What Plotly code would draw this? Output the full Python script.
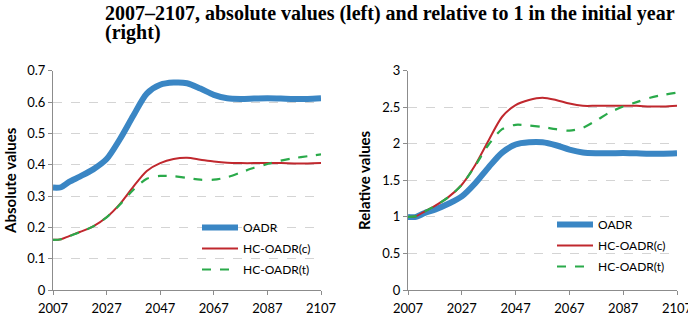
import plotly.graph_objects as go

years = [2007, 2010, 2013, 2017, 2022, 2027, 2032, 2037, 2042, 2047, 2052,
         2057, 2062, 2067, 2072, 2077, 2082, 2087, 2092, 2097, 2102, 2107]

abs_oadr = [0.327, 0.328, 0.345, 0.362, 0.385, 0.418, 0.482, 0.557, 0.627, 0.655, 0.662,
            0.660, 0.643, 0.623, 0.612, 0.610, 0.611, 0.612, 0.611, 0.610, 0.610, 0.612]
abs_hc_c = [0.160, 0.162, 0.172, 0.185, 0.203, 0.232, 0.275, 0.330, 0.380, 0.405, 0.418,
            0.422, 0.416, 0.410, 0.406, 0.405, 0.405, 0.405, 0.405, 0.404, 0.404, 0.405]
abs_hc_t = [0.160, 0.162, 0.172, 0.185, 0.203, 0.232, 0.273, 0.320, 0.355, 0.364, 0.363,
            0.358, 0.352, 0.352, 0.360, 0.375, 0.390, 0.402, 0.413, 0.421, 0.427, 0.433]

rel_oadr = [1.00, 1.00, 1.05, 1.10, 1.18, 1.28, 1.46, 1.68, 1.88, 1.99, 2.02,
            2.02, 1.98, 1.92, 1.88, 1.87, 1.87, 1.875, 1.87, 1.865, 1.865, 1.87]
rel_hc_c = [1.00, 1.01, 1.07, 1.15, 1.27, 1.44, 1.71, 2.05, 2.37, 2.53, 2.60,
            2.63, 2.60, 2.55, 2.52, 2.52, 2.52, 2.52, 2.52, 2.51, 2.51, 2.52]
rel_hc_t = [1.00, 1.01, 1.07, 1.15, 1.27, 1.44, 1.70, 1.99, 2.20, 2.26, 2.25,
            2.23, 2.20, 2.18, 2.22, 2.32, 2.43, 2.51, 2.57, 2.63, 2.67, 2.70]

series_names = ["OADR", "HC-OADR(c)", "HC-OADR(t)"]
x_ticks = [2007, 2027, 2047, 2067, 2087, 2107]
abs_ticks = [0, 0.1, 0.2, 0.3, 0.4, 0.5, 0.6, 0.7]
rel_ticks = [0, 0.5, 1, 1.5, 2, 2.5, 3]
title_line1 = "2007\u20132107, absolute values (left) and relative to 1 in the initial year"
title_line2 = "(right)"

BLUE = "#3A86C4"
RED = "#C0282E"
GREEN = "#2AAA4A"
styles = [dict(color=BLUE, width=6), dict(color=RED, width=2), dict(color=GREEN, width=2.2, dash="dash")]

W, H = 688, 324
SANS = "Lato, Open Sans, Arial"
fig = go.Figure()

for i, (vals, st) in enumerate(zip([abs_oadr, abs_hc_c, abs_hc_t], styles)):
    fig.add_trace(go.Scatter(x=years, y=vals, mode="lines", name=series_names[i],
                             line=dict(shape="spline", smoothing=0.8, **st),
                             xaxis="x", yaxis="y", legend="legend", legendgroup="a%d" % i))
for i, (vals, st) in enumerate(zip([rel_oadr, rel_hc_c, rel_hc_t], styles)):
    fig.add_trace(go.Scatter(x=years, y=vals, mode="lines", name=series_names[i],
                             line=dict(shape="spline", smoothing=0.8, **st),
                             xaxis="x2", yaxis="y2", legend="legend2", legendgroup="b%d" % i))

tickfont = dict(family=SANS, size=13, color="#000000")
axis_common = dict(showline=True, linecolor="#8C8C8C", linewidth=1, ticks="outside",
                   ticklen=4, tickcolor="#8C8C8C", tickfont=tickfont, zeroline=False,
                   automargin=False)
xaxis_extra = dict(ticklabelstandoff=2, ticklabeloverflow="allow")
ytitle_font = dict(family=SANS, size=15, color="#000000")

ydom = [1 - 290 / H, 1 - 70.7 / H]
fig.update_layout(
    width=W, height=H,
    margin=dict(l=0, r=0, t=0, b=0),
    paper_bgcolor="white", plot_bgcolor="white",
    font=dict(family=SANS, color="#000000"),
    xaxis=dict(domain=[53 / W, 321 / W], range=[2007, 2107], tickvals=x_ticks,
               showgrid=False, anchor="y", **axis_common, **xaxis_extra),
    yaxis=dict(domain=ydom, range=[0, 0.7], tickvals=abs_ticks, anchor="x",
               showgrid=True, gridcolor="#D4D4D4", griddash="dash", gridwidth=1,
               title=dict(text="<b>Absolute values</b>", font=ytitle_font, standoff=6),
               **axis_common),
    xaxis2=dict(domain=[408 / W, 677 / W], range=[2007, 2107], tickvals=x_ticks,
                showgrid=False, anchor="y2", **axis_common, **xaxis_extra),
    yaxis2=dict(domain=ydom, range=[0, 3], tickvals=rel_ticks, anchor="x2",
                showgrid=True, gridcolor="#D4D4D4", griddash="dash", gridwidth=1,
                title=dict(text="<b>Relative values</b>", font=ytitle_font, standoff=7),
                **axis_common),
    legend=dict(x=197 / W, y=1 - 213 / H, xanchor="left", yanchor="top",
                bgcolor="rgba(0,0,0,0)", font=dict(family=SANS, size=12),
                tracegroupgap=2, itemwidth=36),
    legend2=dict(x=552 / W, y=1 - 210 / H, xanchor="left", yanchor="top",
                 bgcolor="rgba(0,0,0,0)", font=dict(family=SANS, size=12),
                 tracegroupgap=2, itemwidth=36),
    showlegend=True,
)

title_font = dict(family="Liberation Serif, Times New Roman, serif", size=20, color="#000000")
fig.add_annotation(text="<b>%s</b>" % title_line1, xref="paper", yref="paper",
                   x=103 / W, y=1 - 0 / H, xanchor="left", yanchor="top",
                   showarrow=False, font=title_font)
fig.add_annotation(text="<b>%s</b>" % title_line2, xref="paper", yref="paper",
                   x=103 / W, y=1 - 19 / H, xanchor="left", yanchor="top",
                   showarrow=False, font=title_font)

fig.write_html("out.html")
